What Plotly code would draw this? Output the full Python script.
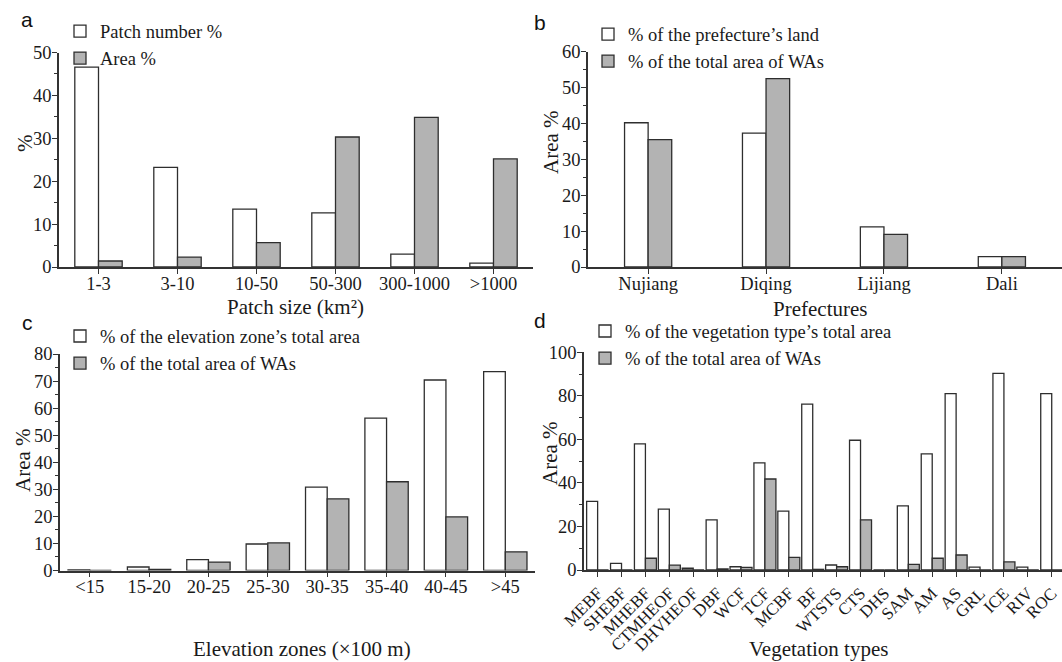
import plotly.graph_objects as go

W, H = 1062, 662

# ---------------- data ----------------
patch_sizes = ["1-3", "3-10", "10-50", "50-300", "300-1000", ">1000"]
patch_number_pct = [46.6, 23.2, 13.5, 12.6, 3.0, 0.9]
patch_area_pct = [1.4, 2.3, 5.7, 30.3, 34.9, 25.2]

prefectures = ["Nujiang", "Diqing", "Lijiang", "Dali"]
pref_land_pct = [40.2, 37.3, 11.2, 2.9]
pref_wa_pct = [35.5, 52.5, 9.1, 2.9]

elev_zones = ["<15", "15-20", "20-25", "25-30", "30-35", "35-40", "40-45", ">45"]
elev_zone_pct = [0.2, 1.3, 4.0, 9.8, 30.8, 56.3, 70.4, 73.5]
elev_wa_pct = [0.0, 0.4, 3.1, 10.2, 26.5, 32.8, 19.8, 6.9]

veg_types = ["MEBF", "SHEBF", "MHEBF", "CTMHEOF", "DHVHEOF", "DBF", "WCF", "TCF",
             "MCBF", "BF", "WTSTS", "CTS", "DHS", "SAM", "AM", "AS", "GRL", "ICE",
             "RIV", "ROC"]
veg_type_pct = [31.5, 3.0, 57.9, 28.0, 0.8, 23.0, 1.5, 49.2, 27.0, 76.2, 2.3, 59.6,
                0.0, 29.5, 53.3, 81.0, 1.3, 90.3, 1.3, 81.0]
veg_wa_pct = [0.0, 0.0, 5.4, 2.2, 0.0, 0.5, 1.2, 41.8, 5.8, 0.3, 1.5, 23.0,
              0.0, 2.6, 5.4, 6.9, 0.0, 3.7, 0.0, 0.0]

# ---------------- style ----------------
SERIF = "Liberation Serif, Times New Roman, serif"
SANS = "Liberation Sans, Arial, sans-serif"
AX = "#333333"
EDGE = "#2e2e2e"
GRAY = "#b3b3b3"
TXT = "#1a1a1a"


def px_x(p):
    return p / W


def px_y(p):
    return 1 - p / H


fig = go.Figure()


def add_pair(x, y1, y2, n1, n2, xa, ya, leg):
    fig.add_trace(go.Bar(x=x, y=y1, name=n1, xaxis=xa, yaxis=ya, legend=leg,
                         marker=dict(color="white", line=dict(color=EDGE, width=1.3))))
    fig.add_trace(go.Bar(x=x, y=y2, name=n2, xaxis=xa, yaxis=ya, legend=leg,
                         marker=dict(color=GRAY, line=dict(color=EDGE, width=1.3))))


add_pair(patch_sizes, patch_number_pct, patch_area_pct,
         "Patch number %", "Area %", "x", "y", "legend")
add_pair(prefectures, pref_land_pct, pref_wa_pct,
         "% of the prefecture’s land", "% of the total area of WAs", "x2", "y2", "legend2")
add_pair(elev_zones, elev_zone_pct, elev_wa_pct,
         "% of the elevation zone’s total area", "% of the total area of WAs", "x3", "y3", "legend3")
add_pair(veg_types, veg_type_pct, veg_wa_pct,
         "% of the vegetation type’s total area", "% of the total area of WAs", "x4", "y4", "legend4")


def xaxis(domain_px, rng, anchor, fsize=18.5, angle=0, standoff=-6):
    return dict(domain=[px_x(domain_px[0]), px_x(domain_px[1])], range=rng, anchor=anchor,
                type="category", showline=True, linecolor=AX, linewidth=1.5,
                ticks="outside", ticklen=5, tickwidth=1.2, tickcolor=AX,
                tickangle=angle, showgrid=False, zeroline=False,
                ticklabelstandoff=standoff,
                tickfont=dict(family=SERIF, size=fsize, color=TXT),
                automargin=False)


def yaxis(domain_px, rng, dtick, mdtick, anchor):
    return dict(domain=[px_y(domain_px[0]), px_y(domain_px[1])], range=rng, anchor=anchor,
                showline=True, linecolor=AX, linewidth=1.5,
                ticks="outside", ticklen=5, tickwidth=1.2, tickcolor=AX,
                dtick=dtick, tick0=0, showgrid=False, zeroline=False,
                ticklabelstandoff=-3,
                minor=dict(dtick=mdtick, ticks="outside", ticklen=3, tickwidth=1, tickcolor=AX,
                           showgrid=False),
                tickfont=dict(family=SERIF, size=18.5, color=TXT),
                automargin=False)


def legend(xp, yp):
    return dict(x=px_x(xp), y=px_y(yp), xanchor="left", yanchor="top",
                bgcolor="rgba(0,0,0,0)", borderwidth=0,
                font=dict(family=SERIF, size=18.5, color=TXT),
                itemclick=False, itemdoubleclick=False, tracegroupgap=0)


fig.update_layout(
    width=W, height=H,
    margin=dict(l=0, r=0, t=0, b=0),
    paper_bgcolor="white", plot_bgcolor="white",
    barmode="group",
    showlegend=True,
    xaxis=xaxis((59, 533), [-0.5, 5.5], "y"),
    yaxis=yaxis((267, 52.5), [0, 50], 10, 5, "x"),
    xaxis2=xaxis((588, 1062), [-0.51, 3.51], "y2"),
    yaxis2=yaxis((267, 51.7), [0, 60], 10, 5, "x2"),
    xaxis3=xaxis((60, 535), [-0.5, 7.5], "y3"),
    yaxis3=yaxis((570.5, 354), [0, 80], 10, 5, "x3"),
    xaxis4=xaxis((584, 1062), [-0.57, 19.43], "y4", fsize=17, angle=-45, standoff=0),
    yaxis4=yaxis((570, 352.3), [0, 100], 20, 10, "x4"),
    legend=legend(60, 12.5),
    legend2=legend(588, 15.5),
    legend3=legend(60, 317.5),
    legend4=legend(585, 312.5),
)

# bar widths per panel (white bar left of the category tick, grey bar right of it)
panel_widths = {"x": 0.30, "x2": 0.20, "x3": 0.365, "x4": 0.46}
for tr in fig.data:
    w = panel_widths[tr.xaxis]
    tr.width = w
    tr.offset = -w if tr.marker.color == "white" else 0

# y-axis titles
for txt, xp, yp in [("%", 25, 143), ("Area %", 551, 142), ("Area %", 23, 460), ("Area %", 550, 453)]:
    fig.add_annotation(text=txt, x=px_x(xp), y=px_y(yp), xref="paper", yref="paper",
                       showarrow=False, xanchor="center", yanchor="middle", textangle=-90,
                       borderpad=0, font=dict(family=SERIF, size=21, color=TXT))

# x-axis titles
for txt, xp, yp in [("Patch size (km²)", 295, 307), ("Prefectures", 820, 309),
                    ("Elevation zones (×100 m)", 302, 648.5), ("Vegetation types", 818, 648.5)]:
    fig.add_annotation(text=txt, x=px_x(xp), y=px_y(yp), xref="paper", yref="paper",
                       showarrow=False, xanchor="center", yanchor="middle",
                       borderpad=0, font=dict(family=SERIF, size=21, color=TXT))

# panel letters
for txt, xp, yp in [("a", 27, 20), ("b", 540, 22), ("c", 27, 322), ("d", 540, 320)]:
    fig.add_annotation(text=txt, x=px_x(xp), y=px_y(yp), xref="paper", yref="paper",
                       showarrow=False, xanchor="center", yanchor="middle",
                       font=dict(family=SANS, size=21, color="#111"))

fig.write_html("out.html")
